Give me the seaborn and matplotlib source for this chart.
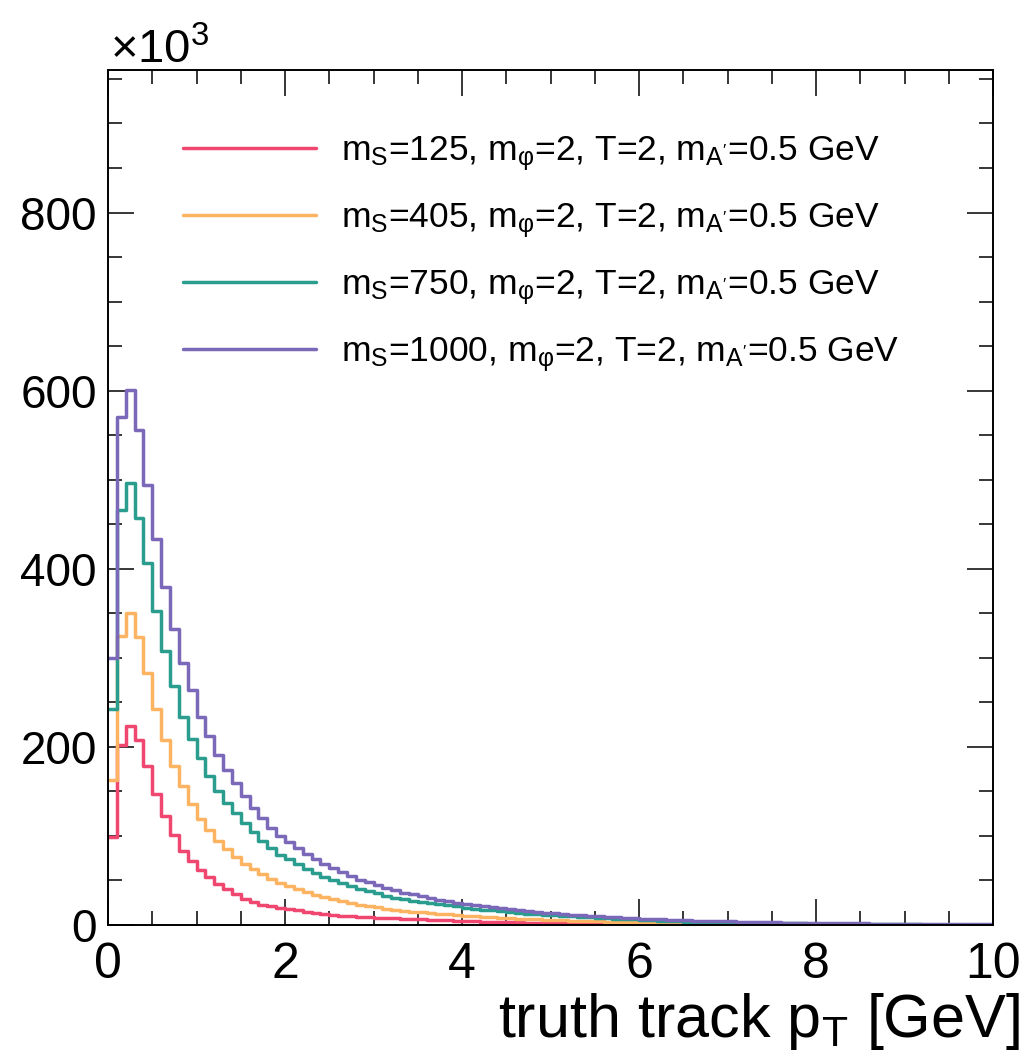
import numpy as np
import pandas as pd
import matplotlib
matplotlib.use("Agg")
import matplotlib.pyplot as plt
import seaborn as sns
from matplotlib.ticker import MultipleLocator

# pT binning of the histograms [GeV]
PT_MIN, PT_MAX, N_BINS = 0.0, 10.0, 100

labels = [
    r"m$_\mathrm{S}$=125, m$_\mathrm{φ}$=2, T=2, m$_\mathrm{A'}$=0.5 GeV",
    r"m$_\mathrm{S}$=405, m$_\mathrm{φ}$=2, T=2, m$_\mathrm{A'}$=0.5 GeV",
    r"m$_\mathrm{S}$=750, m$_\mathrm{φ}$=2, T=2, m$_\mathrm{A'}$=0.5 GeV",
    r"m$_\mathrm{S}$=1000, m$_\mathrm{φ}$=2, T=2, m$_\mathrm{A'}$=0.5 GeV",
]
colors = ["#EF476F", "#FDB462", "#2A9D8F", "#7B68B8"]

# entries per 0.1 GeV bin, in units of 10^3
counts_ms125 = [
    99, 202, 224, 208, 178, 147, 122, 101, 83, 71.5,
    62, 53.5, 45.5, 40, 34.5, 29.5, 26, 23, 21, 19,
    17.5, 16.3, 15, 13.8, 12.7, 11.5, 10.5, 10, 9.3, 8.9,
    8.2, 7.8, 7.4, 7.0, 6.6, 6.2, 5.8, 5.4, 5.1, 4.8,
    4.4, 4.1, 3.8, 3.5, 3.3, 3.1, 2.9, 2.7, 2.5, 2.3,
    2.1, 2.0, 1.8, 1.7, 1.6, 1.5, 1.4, 1.3, 1.2, 1.1,
    1.0, 0.9, 0.9, 0.8, 0.8, 0.7, 0.7, 0.6, 0.6, 0.5,
    0.5, 0.4, 0.4, 0.3, 0.3, 0.3, 0, 0, 0, 0,
    0, 0, 0, 0, 0, 0, 0, 0, 0, 0,
    0, 0, 0, 0, 0, 0, 0, 0, 0, 0,
]
counts_ms405 = [
    163, 324, 350, 323, 283, 242, 208, 178, 156, 136,
    119, 106.5, 94, 85, 76.5, 69, 62.5, 57, 52, 47.5,
    43.5, 40, 37, 34, 31.3, 28.7, 26.8, 25, 23, 21.2,
    19.7, 18.3, 17, 16, 15, 14.2, 13.4, 12.6, 11.9, 11.2,
    10.5, 9.9, 9.3, 8.7, 8.2, 7.7, 7.2, 6.8, 6.4, 6.0,
    5.6, 5.3, 5.0, 4.7, 4.4, 4.1, 3.8, 3.6, 3.4, 3.2,
    3.0, 2.8, 2.6, 2.4, 2.3, 2.1, 2.0, 1.8, 1.7, 1.6,
    1.5, 1.4, 1.3, 1.2, 1.1, 1.0, 0.9, 0.8, 0.8, 0.7,
    0.6, 0.6, 0.5, 0.5, 0.4, 0, 0, 0, 0, 0,
    0, 0, 0, 0, 0, 0, 0, 0, 0, 0,
]
counts_ms750 = [
    242, 466, 496, 457, 406, 353, 308, 268, 234, 209,
    187, 167, 150, 137, 126, 115, 104, 94, 86, 79,
    73.6, 68, 63, 58.7, 54, 50.4, 47.4, 43.6, 40.7, 38,
    35.4, 33, 30.6, 29, 27.5, 26, 24.5, 23.2, 22, 20.8,
    19.6, 18.5, 17.4, 16.4, 15.4, 14.5, 13.7, 12.9, 12.2, 11.5,
    10.8, 10.2, 9.6, 9.0, 8.5, 8.0, 7.5, 7.1, 6.7, 6.3,
    5.6, 5.2, 4.8, 4.5, 4.2, 3.9, 3.6, 3.4, 3.2, 3.0,
    2.8, 2.6, 2.4, 2.3, 2.1, 2.0, 1.9, 1.8, 1.7, 1.6,
    1.5, 1.4, 1.3, 1.2, 1.1, 1.0, 0.9, 0.9, 0.8, 0.7,
    0.7, 0.6, 0, 0, 0, 0, 0, 0, 0, 0,
]
counts_ms1000 = [
    300, 570, 601, 556, 494, 433, 380, 332, 294, 264,
    234, 212.5, 191, 174.5, 159, 144.6, 131.5, 119.6, 109, 99.7,
    93, 86.7, 80, 73.6, 68.7, 64, 59.8, 55, 51, 48,
    44.8, 41.8, 38.8, 36.5, 34.3, 32.2, 30.3, 28.5, 26.8, 25.2,
    23.7, 22.3, 21, 19.8, 18.6, 17.5, 16.5, 15.5, 14.6, 13.8,
    13.0, 12.2, 11.5, 10.8, 10.2, 9.6, 9.0, 8.5, 8.0, 7.5,
    7.1, 6.7, 6.3, 6.0, 5.6, 5.3, 5.0, 4.7, 4.4, 4.2,
    4.0, 3.7, 3.5, 3.3, 3.1, 2.9, 2.8, 2.6, 2.5, 2.4,
    2.2, 2.1, 2.0, 1.9, 1.8, 1.7, 1.6, 1.5, 1.5, 1.4,
    1.3, 1.3, 1.2, 1.2, 1.1, 1.1, 1.0, 1.0, 0.9, 0.9,
]
all_counts = [counts_ms125, counts_ms405, counts_ms750, counts_ms1000]

edges = np.linspace(PT_MIN, PT_MAX, N_BINS + 1)
centers = 0.5 * (edges[:-1] + edges[1:])

# Style
sns.set_theme(style="ticks")
plt.rcParams["font.family"] = ["Liberation Sans", "DejaVu Sans"]
plt.rcParams["mathtext.fontset"] = "custom"
plt.rcParams["mathtext.rm"] = "Liberation Sans"
plt.rcParams["mathtext.it"] = "Liberation Sans:italic"
plt.rcParams["mathtext.sf"] = "Liberation Sans"
plt.rcParams["text.color"] = "black"
plt.rcParams["xtick.color"] = "black"
plt.rcParams["ytick.color"] = "black"

fig = plt.figure(figsize=(10.27, 10.58), dpi=100)
ax = fig.add_axes([0.1052, 0.1257, 0.8617, 0.8081])

for counts, label, color in zip(all_counts, labels, colors):
    df = pd.DataFrame({"pt": centers, "n": counts})
    sns.histplot(data=df, x="pt", weights="n", bins=edges.tolist(), element="step",
                 fill=False, color=color, linewidth=2.5, label=label, ax=ax)

ax.set_xlim(PT_MIN, PT_MAX)
ax.set_ylim(0, 960)
ax.set_xlabel("")
ax.set_ylabel("")

ax.xaxis.set_major_locator(MultipleLocator(2))
ax.xaxis.set_minor_locator(MultipleLocator(0.5))
ax.yaxis.set_major_locator(MultipleLocator(200))
ax.yaxis.set_minor_locator(MultipleLocator(50))
ax.tick_params(which="both", direction="in", top=True, right=True, color="black", width=1.1)
ax.tick_params(which="major", length=19)
ax.tick_params(which="minor", length=10)
ax.tick_params(axis="y", labelsize=33, pad=8, labelcolor="black")
ax.tick_params(axis="x", labelsize=36, pad=12, labelcolor="black")
for side in ax.spines.values():
    side.set_linewidth(1.4)
    side.set_color("black")

ax.legend(loc="upper left", bbox_to_anchor=(0.085, 0.925), frameon=False,
          fontsize=25.5, handlelength=3.75, handletextpad=0.7, labelspacing=0.8,
          borderpad=0, borderaxespad=0)

fig.text(110 / 1027, 1 - 63 / 1058, "×10$^{3}$", fontsize=34, ha="left", va="baseline")
fig.text(1020 / 1027, 1 - 1037 / 1058, r"truth track p$_\mathrm{T}$ [GeV]",
         fontsize=44, ha="right", va="baseline")

fig.savefig("out.png", dpi=100)
